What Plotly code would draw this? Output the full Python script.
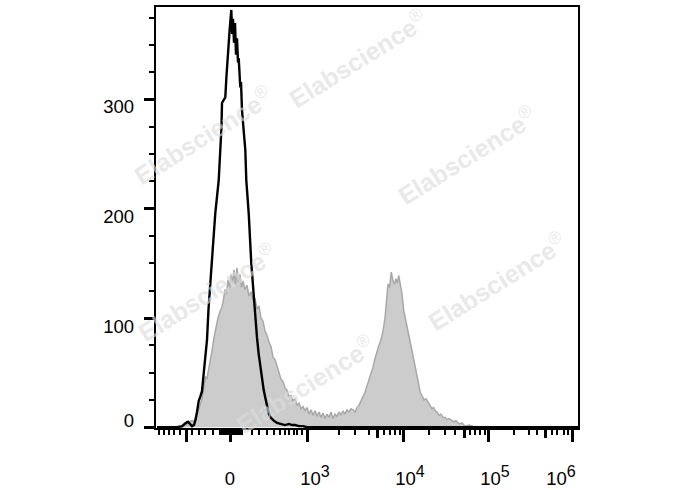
import plotly.graph_objects as go

# ---- data: histogram counts on the biexponential display scale (0-421 display units) ----
black_x = [0, 20, 25, 27, 29, 31, 33, 35, 37, 38.3, 40, 41.7, 43.3, 45, 47, 48.5, 50, 51.5, 53.3,
           55.5, 58.3, 61.7, 63.3, 64.5, 65, 66.5, 68.3, 69.5, 71, 72.5, 74.3, 75.2, 76, 77, 78,
           79, 80, 81, 81.7, 82.5, 83.3, 84, 85, 87, 88.3, 89.3, 91.7, 94.3, 96.7, 98.3, 100,
           101.7, 103.5, 105, 106.7, 108.3, 110, 111.7, 113.5, 116.7, 120, 124, 128, 132, 135,
           138, 142, 146, 150, 421]
black_y = [0, 0, 1, 3, 4, 5, 3, 1, 2, 6, 14, 24, 28, 33, 52, 65, 80, 108, 135,
           160, 196, 226, 254, 275, 297, 299, 302, 322, 345, 362, 382, 360, 374, 352, 370,
           341, 356, 334, 338, 322, 311, 316, 290, 268, 254, 226, 196, 150, 119, 95, 82,
           67, 55, 43, 34, 27, 20, 13, 9, 6, 4, 3, 2, 3, 2,
           2, 1, 1, 0, 0]

gray_x = [0, 25, 29, 32, 35, 37, 39, 41, 43, 45, 47, 48.5, 50, 51.5, 53, 55, 57, 59, 61, 63, 65,
          66.5, 68, 69.5, 71, 72.5, 74, 75.5, 77, 78.5, 80, 81.5, 83, 84.5, 86, 88, 90, 92, 94,
          96, 98, 100, 102, 104, 106, 108, 110, 112, 114, 116, 118, 120, 122, 124, 126, 128,
          130, 132, 134, 136, 138, 140, 142, 144, 146, 148, 150, 152, 154, 156, 158, 160, 162,
          164, 166, 168, 170, 172, 174, 176, 178, 180, 182, 184, 186, 188, 190, 192, 194, 196,
          198, 200, 202, 204, 206, 208, 210, 212, 214, 216, 218, 220, 222, 224, 226, 228,
          229.5, 231, 232.5, 234.3, 236, 237.5, 239, 240.5, 241.7, 243.5, 245, 246.7, 248.5,
          250, 252.5, 255, 257.5, 260, 262, 263.5, 265, 267, 269, 271.7, 273, 275, 276.5,
          278.3, 280, 282, 284, 286, 288.3, 290, 292, 295, 297, 299, 302, 305, 308, 312, 316,
          322, 330, 421]
gray_y = [0, 0, 2, 5, 6, 5, 9, 14, 20, 26, 36, 46, 45, 52, 62, 70, 82, 92, 100, 106, 110,
          117, 126, 122, 135, 128, 140, 132, 144, 131, 146, 133, 140, 128, 134, 126, 130, 120, 124,
          116, 118, 108, 111, 100, 97, 88, 84, 78, 74, 64, 62, 56, 50, 44, 42, 36,
          34, 28, 29, 24, 26, 20, 22, 17, 19, 15, 18, 12, 16, 11, 15, 10, 14,
          9, 13, 8, 12, 9, 14, 8, 12, 10, 14, 11, 15, 12, 16, 14, 17, 16,
          14, 18, 20, 25, 28, 32, 38, 44, 48, 55, 63, 70, 75, 80, 88, 100,
          118, 131, 128, 142, 134, 131, 136, 132, 139, 130, 122, 107, 98,
          92, 81, 70, 59, 49, 38, 31, 29, 25, 26, 22, 20, 17, 18,
          15, 14, 11, 12, 9, 9, 7, 8, 6, 5, 6, 3, 4, 1, 2, 1,
          0.5, 0, 0]

# axis ticks (display positions) and labels
x_major = [29, 73, 150, 246, 331.7, 415]
x_mid = [220, 307.3, 388.3]
x_minor = [2.3, 7.3, 12.3, 17.3, 23.3, 35, 41.7, 48.3, 55.7,
           63, 65, 67, 69, 71, 75, 77, 79, 81, 83, 85,
           95, 101.7, 110, 116.7, 123.3, 127.7, 131.7, 136.7, 140, 145,
           181.7, 198.3, 211.7, 226.7, 233.3, 238.3, 242.5,
           271.7, 288.3, 298.3, 313.3, 318.3, 323.3, 327.5,
           356.7, 371.7, 380, 395, 400, 406.7, 411]
x_label_pos = [73, 158, 253, 338, 404]
SUP = '<sup><span style="font-size:16px">{}</span></sup>'
x_label_text = ["0", "10" + SUP.format(3), "10" + SUP.format(4),
                "10" + SUP.format(5), "10" + SUP.format(6)]

y_major = [0, 100, 200, 300]
y_label_pos = [6.1, 92.3, 192.5, 293.3]
y_label_text = ["0", "100", "200", "300"]

watermark_pos = [(0.479, 0.878), (0.111, 0.696), (0.737, 0.648),
                 (0.121, 0.323), (0.808, 0.349), (0.353, 0.105)]

XR = [-1, 421]
YR = [-0.7, 384.7]
FONT = "Liberation Sans, Arial, sans-serif"

fig = go.Figure()
fig.add_trace(go.Scatter(x=gray_x, y=gray_y, mode="lines", fill="tozeroy",
                         fillcolor="#cccccc", line=dict(color="#a8a8a8", width=1.5),
                         showlegend=False, hoverinfo="skip"))
fig.add_trace(go.Scatter(x=black_x, y=black_y, mode="lines",
                         line=dict(color="black", width=2.4),
                         showlegend=False, hoverinfo="skip"))
# empty trace so that the label-only overlay axes are drawn
fig.add_trace(go.Scatter(x=[], y=[], xaxis="x2", yaxis="y2", mode="lines",
                         showlegend=False, hoverinfo="skip"))

fig.update_layout(
    width=688, height=490,
    margin=dict(l=156, r=110, t=7, b=62, autoexpand=False),
    plot_bgcolor="white", paper_bgcolor="white",
    showlegend=False,
    font=dict(family=FONT, size=18.5, color="black"),
    xaxis=dict(range=XR, showgrid=False, zeroline=False, automargin=False,
               showline=True, linecolor="black", linewidth=2, mirror=True,
               tickmode="array", tickvals=x_major, ticks="outside", ticklen=12,
               tickwidth=3, tickcolor="black", showticklabels=False,
               minor=dict(tickmode="array", tickvals=x_minor, ticks="outside",
                          ticklen=5, tickwidth=1.7, tickcolor="black", showgrid=False)),
    xaxis2=dict(range=XR, overlaying="x", anchor="y2", side="bottom", automargin=False,
                showgrid=False, zeroline=False, showline=False,
                tickmode="array", tickvals=x_label_pos, ticktext=x_label_text,
                ticks="", ticklabelstandoff=37,
                tickfont=dict(family=FONT, size=18.5, color="black"),
                minor=dict(tickmode="array", tickvals=x_mid, ticks="outside",
                           ticklen=9, tickwidth=2.5, tickcolor="black", showgrid=False)),
    yaxis=dict(range=YR, showgrid=False, zeroline=False, automargin=False,
               showline=True, linecolor="black", linewidth=2, mirror=True,
               tickmode="array", tickvals=y_major, ticks="outside", ticklen=10,
               tickwidth=3, tickcolor="black", showticklabels=False,
               minor=dict(tickmode="linear", tick0=0, dtick=25, ticks="outside",
                          ticklen=5, tickwidth=1.5, tickcolor="black", showgrid=False)),
    yaxis2=dict(range=YR, overlaying="y", anchor="x2", side="left", automargin=False,
                showgrid=False, zeroline=False, showline=False,
                tickmode="array", tickvals=y_label_pos, ticktext=y_label_text,
                ticks="", ticklabelstandoff=21,
                tickfont=dict(family=FONT, size=18.5, color="black")),
)

for (wx, wy) in watermark_pos:
    fig.add_annotation(x=wx, y=wy, xref="paper", yref="paper", showarrow=False,
                       xanchor="center", yanchor="middle",
                       text="<b>Elabscience</b><sup>®</sup>", textangle=-32,
                       font=dict(family=FONT, size=25, color="rgba(220,220,220,0.65)"))

fig.write_html("out.html", config={"displayModeBar": False},
               post_script="document.body.style.margin='0';")
